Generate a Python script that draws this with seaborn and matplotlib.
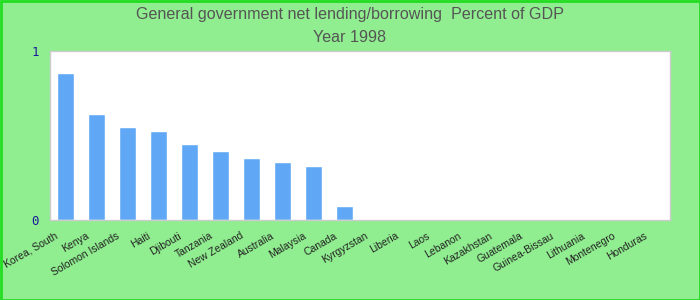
import matplotlib
matplotlib.use("Agg")
import matplotlib.pyplot as plt
import matplotlib.transforms as mtransforms
import seaborn as sns
import pandas as pd

categories = ["Korea, South", "Kenya", "Solomon Islands", "Haiti", "Djibouti",
              "Tanzania", "New Zealand", "Australia", "Malaysia", "Canada",
              "Kyrgyzstan", "Liberia", "Laos", "Lebanon", "Kazakhstan",
              "Guatemala", "Guinea-Bissau", "Lithuania", "Montenegro", "Honduras"]
values = [0.872, 0.629, 0.552, 0.528, 0.451, 0.41, 0.368, 0.344, 0.32, 0.083,
          0, 0, 0, 0, 0, 0, 0, 0, 0, 0]
title_lines = ["General government net lending/borrowing  Percent of GDP", "Year 1998"]
ytick_vals = [0, 1]

sns.set_theme(style="white")
plt.rcParams['font.family'] = ['Liberation Sans', 'DejaVu Sans']

df = pd.DataFrame({"country": categories, "value": values})

fig = plt.figure(figsize=(7, 3), dpi=100, facecolor="#90EE90")
ax = fig.add_axes([50/700, 80/300, 620/700, 169/300])
ax.set_facecolor("white")
sns.barplot(data=df, x="country", y="value", color="#60A8F5", saturation=1,
            width=0.55, ax=ax)
ax.set_xlim(-0.5, len(categories) - 0.5)
ax.set_ylim(0, 1)
ax.set_yticks(ytick_vals)
ax.set_yticklabels([str(v) for v in ytick_vals], color="#1a1a9a",
                   family="DejaVu Sans Mono", fontsize=9)
ax.tick_params(axis="y", length=0, pad=8)
ax.tick_params(axis="x", length=0, pad=2)
ax.set_xticks(range(len(categories)))
ax.set_xticklabels(categories, rotation=30, ha="right", rotation_mode="anchor",
                   fontsize=7.5, color="#222222")
offset = mtransforms.ScaledTranslation(-11/100, -8/100, fig.dpi_scale_trans)
for lbl in ax.get_xticklabels():
    lbl.set_transform(lbl.get_transform() + offset)
ax.set_xlabel("")
ax.set_ylabel("")
for s in ax.spines.values():
    s.set_color("#cccccc")
    s.set_linewidth(1)

fig.text(0.5, 1 - 14/300, title_lines[0], ha="center", va="center",
         fontsize=11.6, color="#555555")
fig.text(0.5, 1 - 37/300, title_lines[1], ha="center", va="center",
         fontsize=11.6, color="#555555")

border = plt.Rectangle((0.5/700, 0.5/300), 699/700, 299/300, transform=fig.transFigure,
                       fill=False, edgecolor="#22dd22", linewidth=2)
fig.patches.append(border)

fig.savefig("out.png", dpi=100, facecolor=fig.get_facecolor())
